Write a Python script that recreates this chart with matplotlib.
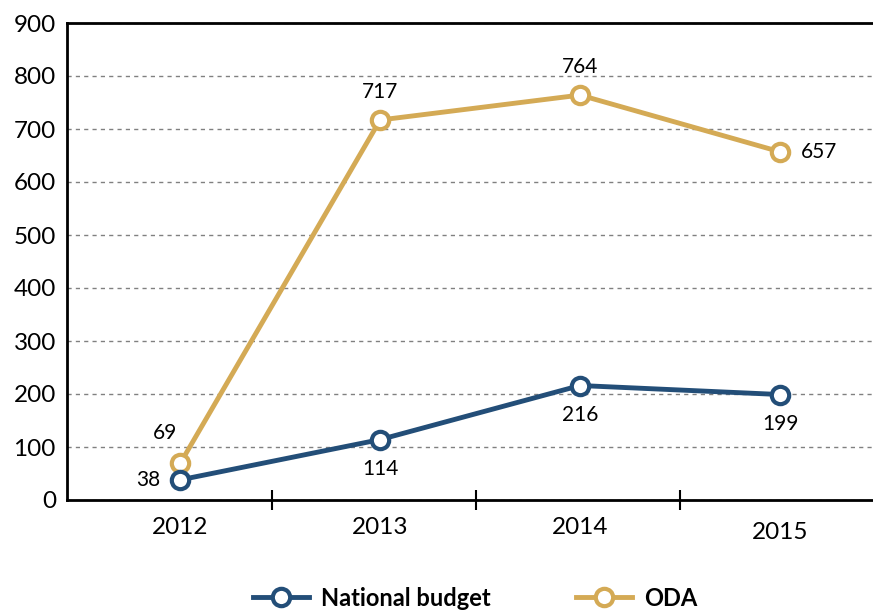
import matplotlib
matplotlib.use("Agg")
import matplotlib.pyplot as plt
from matplotlib.lines import Line2D

years = ["2012", "2013", "2014", "2015"]
national_budget = [38, 114, 216, 199]
oda = [69, 717, 764, 657]
yticks = [0, 100, 200, 300, 400, 500, 600, 700, 800, 900]

navy = "#234E78"
gold = "#D4AA55"

plt.rcParams['font.family'] = ['Lato', 'DejaVu Sans']

W, H = 873, 613
fig = plt.figure(figsize=(W / 100, H / 100), dpi=100)
left, right, top, bottom = 67, 890, 23, 500
ax = fig.add_axes([left / W, 1 - bottom / H, (right - left) / W, (bottom - top) / H])

x = list(range(len(years)))
ax.plot(x, oda, color=gold, lw=3.5, marker='o', ms=12.5, mfc='white', mec=gold, mew=3, zorder=3)
ax.plot(x, national_budget, color=navy, lw=3.5, marker='o', ms=12.5, mfc='white', mec=navy, mew=3, zorder=4)

ax.set_xlim(-0.566, 3.55)
ax.set_ylim(0, 900)
ax.set_yticks(yticks)
ax.set_yticklabels([str(v) for v in yticks], fontsize=17.5)
ax.tick_params(axis='y', length=0, pad=8)
ax.set_xticks(x)
ax.set_xticklabels(years, fontsize=17.5)
ax.tick_params(axis='x', which='major', length=0, pad=12)
ax.get_xticklabels()[3].set_y(-0.012)
ax.set_xticks([0.46, 1.48, 2.5], minor=True)
ax.tick_params(axis='x', which='minor', direction='inout', length=15, width=1.5, color='black')

ax.grid(axis='y', linestyle=(0, (3, 3)), color='#808080', lw=1)
for s in ['left', 'bottom', 'top']:
    ax.spines[s].set_linewidth(2)
ax.spines['right'].set_visible(False)

fs = 15
ax.annotate(str(oda[0]), (0, oda[0]), xytext=(-11, 22), textcoords='offset points', ha='center', va='center', fontsize=fs)
ax.annotate(str(national_budget[0]), (0, national_budget[0]), xytext=(-23, 0), textcoords='offset points', ha='center', va='center', fontsize=fs)
for i in [1, 2]:
    ax.annotate(str(oda[i]), (i, oda[i]), xytext=(0, 20), textcoords='offset points', ha='center', va='center', fontsize=fs)
ax.annotate(str(oda[3]), (3, oda[3]), xytext=(28, 0), textcoords='offset points', ha='center', va='center', fontsize=fs)
for i in [1, 2, 3]:
    ax.annotate(str(national_budget[i]), (i, national_budget[i]), xytext=(0, -21), textcoords='offset points', ha='center', va='center', fontsize=fs)

handles = [
    Line2D([0], [0], color=navy, lw=3.5, marker='o', ms=12.5, mfc='white', mec=navy, mew=3),
    Line2D([0], [0], color=gold, lw=3.5, marker='o', ms=12.5, mfc='white', mec=gold, mew=3),
]
fig.legend(handles, ["National budget", "ODA"], loc='center', bbox_to_anchor=(475 / W, 1 - 598 / H),
           ncol=2, frameon=False, prop={'weight': 'bold', 'size': 17}, handlelength=2.4,
           columnspacing=3.6, handletextpad=0.5)

fig.savefig("out.png", dpi=100)
